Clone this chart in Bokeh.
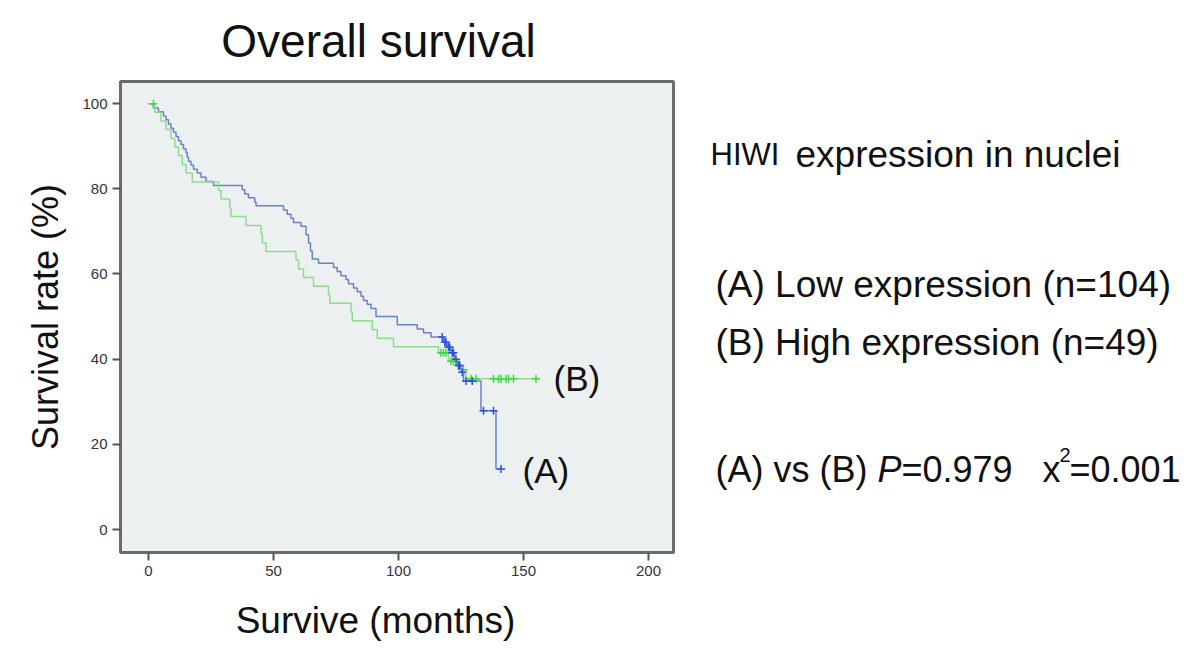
from bokeh.plotting import figure
from bokeh.layouts import row, column
from bokeh.models import Range1d, Label, FixedTicker
from bokeh.embed import file_html
from bokeh.resources import INLINE

# ---------------- data ----------------
# (A) Low expression (n=104): Kaplan-Meier steps (time in months, survival %)
a_time = [0, 2, 4, 6, 7, 8, 9, 10, 11, 12, 13, 14, 15, 15.5, 16, 17, 18, 19.5, 21, 23,
          26, 37.5, 38.5, 40, 42.5, 43, 54, 55.5, 57, 58, 61, 63, 64, 64.8, 65.5, 68,
          74, 75.5, 77, 79, 80, 82, 83.5, 85, 86, 87.5, 89, 91, 99.5, 107.5, 110, 113,
          118, 119.5, 121, 122.5, 123.5, 125, 126, 133, 139, 141]
a_surv = [100, 99.0, 98.1, 97.1, 96.2, 95.2, 94.2, 93.3, 92.3, 91.3, 90.4, 89.4, 88.5, 87.5, 86.5, 85.6, 84.6, 83.7, 82.7, 81.7,
          80.8, 79.8, 78.8, 77.9, 76.9, 76.0, 75.0, 74.0, 73.1, 72.1, 71.2, 69.2, 67.3, 65.4, 63.5, 62.5,
          61.5, 60.6, 59.6, 58.7, 57.7, 56.7, 55.8, 54.8, 53.8, 52.9, 51.9, 50.0, 48.1, 47.1, 46.2, 45.2,
          44.0, 42.8, 41.5, 40.0, 38.5, 36.9, 34.9, 27.9, 14.2, 14.2]
a_censor = [117.5, 118.5, 119, 120, 120.5, 121.5, 122, 123, 124, 124.5, 125.5, 127, 129.5, 134, 138, 141]

# (B) High expression (n=49)
b_time = [0, 2.5, 5, 7, 9, 10.5, 12, 13.5, 15, 17.5, 28, 29, 32.5, 33, 39, 45, 45.5, 47, 59, 60,
          62, 66, 72, 72.5, 81, 81.5, 89.5, 91.5, 98, 116, 120, 124, 127, 155]
b_surv = [100, 98.0, 95.9, 93.9, 91.8, 89.8, 87.8, 85.7, 83.7, 81.6, 79.6, 77.6, 75.5, 73.5, 71.4, 69.4, 67.3, 65.3, 63.3, 61.2,
          59.2, 57.1, 55.1, 53.1, 51.0, 49.0, 46.9, 44.9, 42.9, 41.5, 39.5, 37.5, 35.4, 35.4]
b_censor = [2, 117, 118, 119, 121, 122, 123, 126, 129, 131, 138, 140, 141, 143, 144, 146, 155]

x_ticks = [0, 50, 100, 150, 200]
y_ticks = [0, 20, 40, 60, 80, 100]

title_text = "Overall survival"
x_label = "Survive (months)"
y_label = "Survival rate (%)"


def surv_at(times, survs, t):
    s = survs[0]
    for ti, si in zip(times, survs):
        if ti <= t:
            s = si
    return s


FONT = "Liberation Sans"
INK = "#111111"
BLUE_LINE = "#6A82CC"
BLUE_MARK = "#2F52D8"
GREEN_LINE = "#8EDB8E"
GREEN_MARK = "#3CDC3C"

FL, FW, FR = 120, 553, 10    # frame left border, frame width, right border
LEFT_W = FL + FW + FR
TOP_H = 74
BOT_H = 56


def strip(h, y0):
    # same horizontal borders as the main plot, so its frame lines up; data units = page px
    f = figure(frame_width=FW, height=h, min_border_left=FL, min_border_right=FR,
               min_border_top=0, min_border_bottom=0,
               x_range=Range1d(FL, FL + FW), y_range=Range1d(y0 + h, y0),
               output_backend="svg", toolbar_location=None)
    f.axis.visible = False
    f.xgrid.visible = False
    f.ygrid.visible = False
    f.outline_line_color = None
    f.background_fill_color = "white"
    f.border_fill_color = "white"
    return f


# ---------------- main plot ----------------
p = figure(frame_width=FW, frame_height=471,
           min_border_left=FL, min_border_right=FR, min_border_top=7, min_border_bottom=40,
           x_range=Range1d(-11.2, 210), y_range=Range1d(-5.4, 105.2),
           output_backend="svg", toolbar_location=None)

p.background_fill_color = "#EDF0F1"
p.border_fill_color = "white"
p.outline_line_color = "#6B6B6B"
p.outline_line_width = 3
p.xgrid.visible = False
p.ygrid.visible = False

for ax in (p.xaxis[0], p.yaxis[0]):
    ax.axis_line_color = None
    ax.major_tick_line_color = "#555555"
    ax.major_tick_line_width = 2
    ax.major_tick_out = 8
    ax.major_tick_in = 0
    ax.minor_tick_line_color = None
    ax.major_label_text_font = FONT
    ax.major_label_text_font_size = "15px"
    ax.major_label_text_color = "#333333"
    ax.major_label_standoff = 5

p.xaxis.ticker = FixedTicker(ticks=x_ticks)
p.yaxis.ticker = FixedTicker(ticks=y_ticks)
p.yaxis.axis_label = y_label
p.yaxis.axis_label_text_font = FONT
p.yaxis.axis_label_text_font_style = "normal"
p.yaxis.axis_label_text_font_size = "36px"
p.yaxis.axis_label_text_color = INK
p.yaxis.axis_label_standoff = 13

p.step(a_time, a_surv, mode="after", line_color=BLUE_LINE, line_width=1.5)
p.step(b_time, b_surv, mode="after", line_color=GREEN_LINE, line_width=1.5)
p.scatter(b_censor, [surv_at(b_time, b_surv, t) for t in b_censor], marker="cross",
          size=8, line_color=GREEN_MARK, line_width=1.5)
p.scatter(a_censor, [surv_at(a_time, a_surv, t) for t in a_censor], marker="cross",
          size=8, line_color=BLUE_MARK, line_width=1.5)

p.add_layout(Label(x=149.6, y=13.9, text="(A)", text_font=FONT, text_font_size="35px",
                   text_color=INK, text_baseline="middle"))
p.add_layout(Label(x=162, y=35.4, text="(B)", text_font=FONT, text_font_size="35px",
                   text_color=INK, text_baseline="middle"))

# ---------------- title strip ----------------
t = strip(TOP_H, 0)
t.add_layout(Label(x=378, y=40, text=title_text, text_font=FONT, text_font_size="46px",
                   text_color=INK, text_align="center", text_baseline="middle"))

# ---------------- x-label strip ----------------
b = strip(BOT_H, 648 - BOT_H)
b.add_layout(Label(x=375, y=620, text=x_label, text_font=FONT, text_font_size="37px",
                   text_color=INK, text_align="center", text_baseline="middle"))

# ---------------- right-hand annotations ----------------
RW = 1200 - LEFT_W
r = figure(width=RW, height=648, min_border=0,
           x_range=Range1d(LEFT_W, 1200), y_range=Range1d(648, 0),
           output_backend="svg", toolbar_location=None)
r.axis.visible = False
r.xgrid.visible = False
r.ygrid.visible = False
r.outline_line_color = None
r.background_fill_color = "white"
r.border_fill_color = "white"

r.add_layout(Label(x=710, y=154, text="HIWI", text_font=FONT, text_font_size="31px",
                   text_color=INK, text_baseline="middle"))
r.add_layout(Label(x=795, y=154, text="expression in nuclei", text_font=FONT,
                   text_font_size="37px", text_color=INK, text_baseline="middle"))
r.add_layout(Label(x=715, y=284, text="(A) Low expression (n=104)", text_font=FONT,
                   text_font_size="37px", text_color=INK, text_baseline="middle"))
r.add_layout(Label(x=715, y=342, text="(B) High expression (n=49)", text_font=FONT,
                   text_font_size="37px", text_color=INK, text_baseline="middle"))

pieces = [
    ("(A) vs (B)", 715, 469, "normal", "36px"),
    ("P", 877, 469, "italic", "36px"),
    ("=0.979", 901, 469, "normal", "36px"),
    ("x", 1042, 469, "normal", "36px"),
    ("2", 1059, 454, "normal", "20px"),
    ("=0.001", 1069, 469, "normal", "36px"),
]
for txt, px, py, style, size in pieces:
    r.add_layout(Label(x=px, y=py, text=txt, text_font=FONT, text_font_style=style,
                       text_font_size=size, text_color=INK, text_baseline="middle"))

layout = row(column(t, p, b), r)
open("out.html", "w").write(file_html(layout, INLINE))
